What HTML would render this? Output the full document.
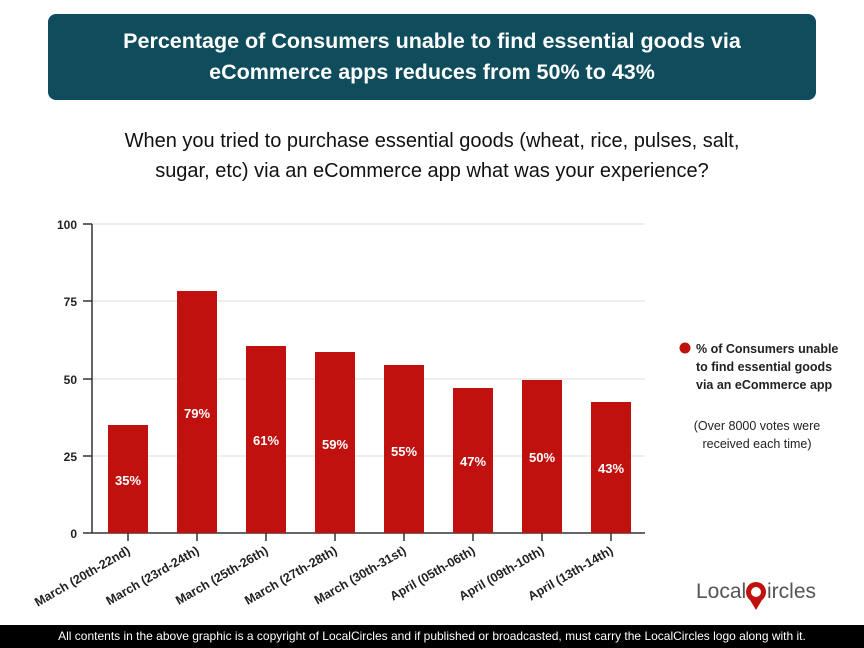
<!DOCTYPE html>
<html><head><style>
body{margin:0;width:864px;height:648px;background:#fff;font-family:"Liberation Sans",Arial,sans-serif;position:relative;overflow:hidden}
.title{position:absolute;left:48px;top:14px;width:768px;height:86px;background:#0f4c5c;border-radius:8px;color:#fff;font-weight:bold;font-size:21.5px;text-align:center;line-height:31px;padding-top:12px;box-sizing:border-box}
.q{position:absolute;left:60px;top:126px;width:744px;text-align:center;font-size:20px;line-height:30px;color:#111}
.foot{position:absolute;left:0;top:625px;width:864px;height:23px;background:#000;color:#fff;font-size:12px;line-height:23px;text-align:center}
</style></head><body>
<div class="title">Percentage of Consumers unable to find essential goods via<br>eCommerce apps reduces from 50% to 43%</div>
<div class="q">When you tried to purchase essential goods (wheat, rice, pulses, salt,<br>sugar, etc) via an eCommerce app what was your experience?</div>
<svg width="864" height="648" style="position:absolute;left:0;top:0" font-family="Liberation Sans,Arial,sans-serif">
<g stroke="#e8e8e8" stroke-width="1.5">
<line x1="92" y1="224" x2="645" y2="224"/><line x1="92" y1="301" x2="645" y2="301"/><line x1="92" y1="379" x2="645" y2="379"/><line x1="92" y1="456" x2="645" y2="456"/>
</g>
<g font-size="12" font-weight="bold" fill="#222" text-anchor="end">
<text x="77" y="229">100</text><text x="77" y="306">75</text><text x="77" y="384">50</text><text x="77" y="461">25</text><text x="77" y="538">0</text>
</g>
<g stroke="#333" stroke-width="1.5">
<line x1="92" y1="224" x2="92" y2="533"/><line x1="83" y1="533" x2="645" y2="533"/>
<line x1="83" y1="224" x2="92" y2="224"/><line x1="83" y1="301" x2="92" y2="301"/><line x1="83" y1="379" x2="92" y2="379"/><line x1="83" y1="456" x2="92" y2="456"/>
</g>
<g fill="#c0110f">
<rect x="108" y="425" width="40" height="108"/>
<rect x="177" y="291" width="40" height="242"/>
<rect x="246" y="346" width="40" height="187"/>
<rect x="315" y="352" width="40" height="181"/>
<rect x="384" y="365" width="40" height="168"/>
<rect x="453" y="388" width="40" height="145"/>
<rect x="522" y="380" width="40" height="153"/>
<rect x="591" y="402" width="40" height="131"/>
</g>
<g fill="#fff" font-size="13" font-weight="bold" text-anchor="middle">
<text x="128" y="485">35%</text><text x="197" y="418">79%</text><text x="266" y="445">61%</text><text x="335" y="449">59%</text><text x="404" y="456">55%</text><text x="473" y="466">47%</text><text x="542" y="462">50%</text><text x="611" y="473">43%</text>
</g>
<g stroke="#333" stroke-width="1.5">
<line x1="128" y1="533" x2="128" y2="541"/><line x1="197" y1="533" x2="197" y2="541"/><line x1="266" y1="533" x2="266" y2="541"/><line x1="335" y1="533" x2="335" y2="541"/><line x1="404" y1="533" x2="404" y2="541"/><line x1="473" y1="533" x2="473" y2="541"/><line x1="542" y1="533" x2="542" y2="541"/><line x1="611" y1="533" x2="611" y2="541"/>
</g>
<g font-size="12.5" font-weight="bold" fill="#222" text-anchor="end">
<text transform="translate(131,553) rotate(-30)">March (20th-22nd)</text>
<text transform="translate(200,553) rotate(-30)">March (23rd-24th)</text>
<text transform="translate(269,553) rotate(-30)">March (25th-26th)</text>
<text transform="translate(338,553) rotate(-30)">March (27th-28th)</text>
<text transform="translate(407,553) rotate(-30)">March (30th-31st)</text>
<text transform="translate(476,553) rotate(-30)">April (05th-06th)</text>
<text transform="translate(545,553) rotate(-30)">April (09th-10th)</text>
<text transform="translate(614,553) rotate(-30)">April (13th-14th)</text>
</g>
<circle cx="685" cy="348" r="5.5" fill="#c0110f"/>
<g font-size="12.5" font-weight="bold" fill="#222">
<text x="696" y="353">% of Consumers unable</text>
<text x="696" y="371">to find essential goods</text>
<text x="696" y="389">via an eCommerce app</text>
</g>
<g font-size="12.5" fill="#222" text-anchor="middle">
<text x="757" y="430">(Over 8000 votes were</text>
<text x="757" y="448">received each time)</text>
</g>
<text x="696" y="598" font-size="21" fill="#555">Local</text>
<circle cx="756" cy="592" r="10" fill="#c0110f"/>
<circle cx="756" cy="592" r="5" fill="#fff"/>
<path d="M750 600 L756 610 L762 600Z" fill="#c0110f"/>
<text x="767" y="598" font-size="21" fill="#555">ircles</text>
</svg>
<div class="foot">All contents in the above graphic is a copyright of LocalCircles and if published or broadcasted, must carry the LocalCircles logo along with it.</div>
</body></html>
